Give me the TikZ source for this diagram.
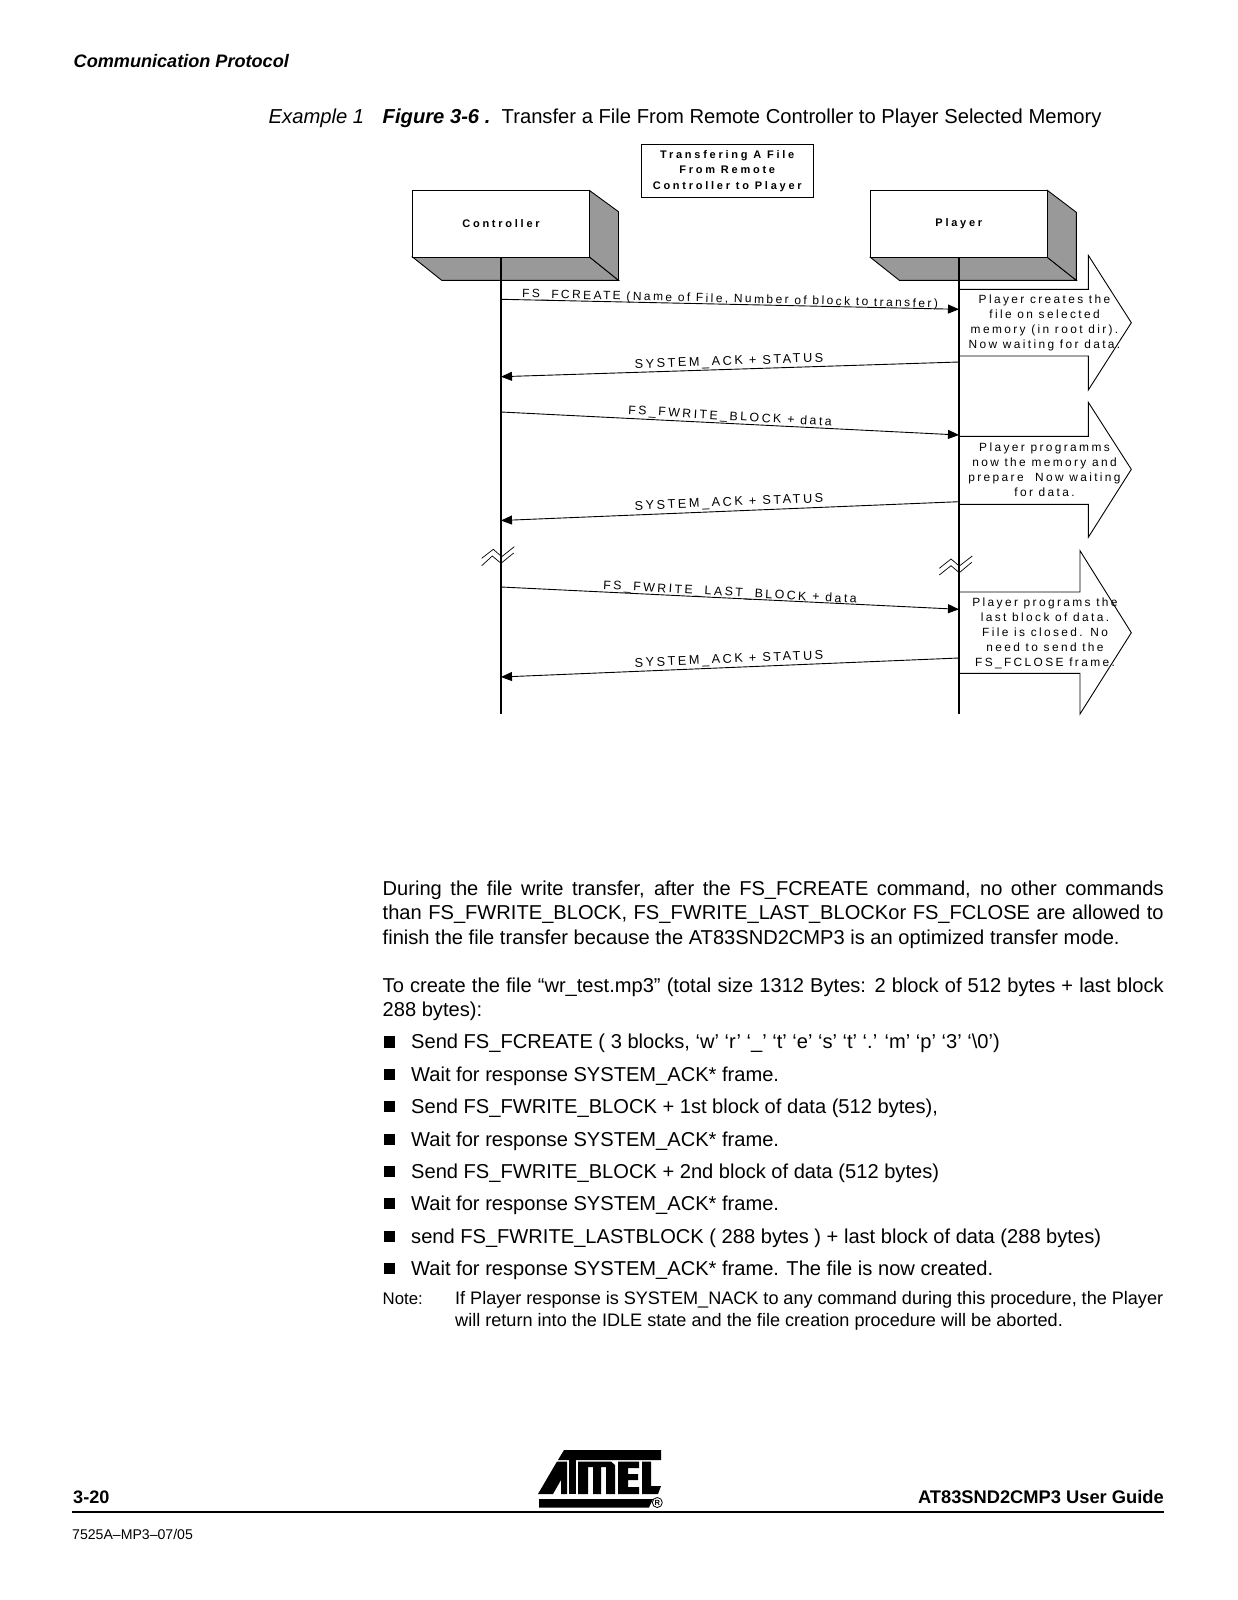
\documentclass[tikz,border=0pt]{standalone}
\usepackage{fontspec}
\setmainfont{Liberation Sans}
\newfontfamily\dgm[LetterSpace=20]{Liberation Sans}
\newfontfamily\dgmb[LetterSpace=25]{Liberation Sans Bold}
\definecolor{shade}{gray}{0.6}
\usetikzlibrary{arrows.meta}
\tikzset{
 x=1pt,y=-1pt,
 ln/.style={draw=black,line width=0.9pt},
 brk/.style={draw=black,line width=0.7pt},
 msg/.style={ln,-{Triangle[length=11pt,width=9pt]}},
 life/.style={draw=black,line width=1.3pt},
 hd/.style={fill=shade,ln},
 lab/.style={font=\dgm\fontsize{12}{12}\selectfont,inner sep=0pt},
 labs/.style={font=\dgm\fontsize{12.7}{12}\selectfont,inner sep=0pt},
 labw/.style={font=\dgm\fontsize{12.35}{12}\selectfont,inner sep=0pt},
 ttl/.style={font=\dgmb\fontsize{11}{15.2}\selectfont,inner sep=0pt,outer sep=0pt,align=center},
 call/.style={font=\dgm\fontsize{11.9}{15}\selectfont,inner sep=0pt,align=center},
 body/.style={font=\fontsize{20.1}{24}\selectfont,anchor=base west,inner sep=0pt},
 small/.style={font=\fontsize{18.1}{22}\selectfont,anchor=base west,inner sep=0pt},
 bul/.style={fill=black,draw=none,minimum size=11.5pt,inner sep=0pt,outer sep=0pt,anchor=center},
 logo/.style={fill=black,draw=none},
}
\newcommand{\jl}[1]{\makebox[781pt][s]{#1}}
\begin{document}
\begin{tikzpicture}
\useasboundingbox (0,0) rectangle (1237,1600);
\fill[white] (0,0) rectangle (1237,1600);
% header
\node[anchor=base west,inner sep=0pt,font=\fontsize{18.1}{20}\selectfont\bfseries\itshape] (hdr) at (73.5,68) {Communication Protocol};
\node[anchor=base west,inner sep=0pt,font=\fontsize{20.2}{24}\selectfont\itshape] (ex) at (268.5,124) {Example 1};
\node[anchor=base west,inner sep=0pt,font=\fontsize{20.2}{24}\selectfont\bfseries\itshape] (fig) at (382.5,124) {Figure 3-6 .};
\node[anchor=base west,inner sep=0pt,font=\fontsize{20.2}{24}\selectfont] (figt) at (501.5,124) {Transfer a File From Remote Controller to Player Selected Memory};
% title
\node[draw,line width=0.9pt,minimum width=172.5pt,minimum height=53.5pt,ttl,anchor=north west] (title) at (641,144.3) {Transfering A File\\From Remote\\Controller to Player};
% controller box
\draw[hd] (412.5,257) -- (441.7,280.3) -- (618.5,280.3) -- (589.5,257) -- cycle;
\draw[hd] (589.5,190.5) -- (618.5,211.7) -- (618.5,280.3) -- (589.5,257) -- cycle;
\node[ln,fill=white,minimum width=177pt,minimum height=66.5pt,anchor=north west,ttl] (ctl) at (412.5,190.5) {\raisebox{-1pt}{Controller}};
% player box
\draw[hd] (870.3,257.3) -- (899.3,280.3) -- (1076.3,280.3) -- (1047.3,257.3) -- cycle;
\draw[hd] (1047.3,190.3) -- (1076.3,212.3) -- (1076.3,280.3) -- (1047.3,257.3) -- cycle;
\node[ln,fill=white,minimum width=177pt,minimum height=67pt,anchor=north west,ttl] (ply) at (870.3,190.3) {\raisebox{-1.5pt}{Player}};
% callouts
\draw[ln] (959,289.3) -- (1088.3,289.3) -- (1088.3,255.3) -- (1131.3,322.7) -- (1088.3,390) -- (1088.3,356) -- (959,356);
\draw[ln] (959,436.3) -- (1088.3,436.3) -- (1088.3,402.3) -- (1131.3,469.3) -- (1088.3,537.3) -- (1088.3,504.3) -- (959,504.3);
\draw[ln] (959,592) -- (1080,592) -- (1080,550.7) -- (1131.3,632.7) -- (1080,714) -- (1080,673.3) -- (959,673.3);
\node[call] (c1) at (1044.5,322.5) {Player creates the\\file on selected\\memory (in root dir).\\Now waiting for data.};
\node[call] (c2) at (1044.5,470) {Player programms\\now the memory and\\prepare~ Now waiting\\for data.};
\node[call] (c3) at (1045,633.5) {Player programs the\\last block of data.\\File is closed. No\\need to send the\\FS\_FCLOSE frame.};
% lifelines
\coordinate (ce) at (501,714);
\coordinate (pe) at (959,714);
\draw[life] (501,257) -- (ce);
\draw[life] (959,257.3) -- (pe);
% messages
\coordinate (a1) at (501,299.3); \coordinate (b1) at (959,309.3);
\coordinate (b2) at (959,362); \coordinate (a2) at (501,376.7);
\coordinate (a3) at (501,412); \coordinate (b3) at (959,435);
\coordinate (b4) at (959,501.7); \coordinate (a4) at (501,520.5);
\coordinate (a5) at (501,587); \coordinate (b5) at (959,609.3);
\coordinate (b6) at (959,658); \coordinate (a6) at (501,677);
\draw[msg] (a1) -- (b1);
\draw[msg] (b2) -- (a2);
\draw[msg] (a3) -- (b3);
\draw[msg] (b4) -- (a4);
\draw[msg] (a5) -- (b5);
\draw[msg] (b6) -- (a6);
\node[lab,rotate=-1.4] (l1) at (730,299.5) {FS\_FCREATE (Name of File, Number of block to transfer)};
\node[labs,rotate=2] (l2) at (729,362) {SYSTEM\_ACK + STATUS};
\node[labw,rotate=-3.4] (l3) at (730,417) {FS\_FWRITE\_BLOCK + data};
\node[labs,rotate=2.4] (l4) at (729,503) {SYSTEM\_ACK + STATUS};
\node[labw,rotate=-3.2] (l5) at (730,593) {FS\_FWRITE\_LAST\_BLOCK + data};
\node[labs,rotate=2.4] (l6) at (729,660) {SYSTEM\_ACK + STATUS};
% breaks
\draw[brk] (481.7,565.7) -- (492.3,556) -- (501,563.3) -- (513.7,553);
\draw[brk] (481.7,558.3) -- (493.3,549.3) -- (501.7,556.7) -- (514.3,546.7);
\draw[brk] (939.3,575) -- (951,565.7) -- (959.3,572.7) -- (971.7,562.3);
\draw[brk] (939.3,568.3) -- (951,559) -- (959.3,566) -- (972.3,556);
% body
\node[body] (p1) at (382.5,895) {\jl{During the file write transfer, after the FS\_FCREATE command, no other commands}};
\node[body] (p2) at (382.5,919) {\jl{than FS\_FWRITE\_BLOCK, FS\_FWRITE\_LAST\_BLOCKor FS\_FCLOSE are allowed to}};
\node[body] (p3) at (382.5,944) {finish the file transfer because the AT83SND2CMP3 is an optimized transfer mode.};
\node[body] (p4) at (382.5,992) {\jl{To create the file “wr\_test.mp3” (total size 1312 Bytes: 2 block of 512 bytes + last block}};
\node[body] (p5) at (382.5,1016) {288 bytes):};
\foreach \nm/\yy/\tx in {
 b1/1048.5/{Send FS\_FCREATE ( 3 blocks, ‘w’ ‘r’ ‘\_’ ‘t’ ‘e’ ‘s’ ‘t’ ‘.’ ‘m’ ‘p’ ‘3’ ‘\textbackslash 0’)},
 b2/1081/{Wait for response SYSTEM\_ACK* frame.},
 b3/1113/{Send FS\_FWRITE\_BLOCK + 1st block of data (512 bytes),},
 b4/1146/{Wait for response SYSTEM\_ACK* frame.},
 b5/1178/{Send FS\_FWRITE\_BLOCK + 2nd block of data (512 bytes)},
 b6/1210/{Wait for response SYSTEM\_ACK* frame.},
 b7/1243/{send FS\_FWRITE\_LASTBLOCK ( 288 bytes ) + last block of data (288 bytes)},
 b8/1275/{Wait for response SYSTEM\_ACK* frame. The file is now created.}}{
 \node[bul] (sq\nm) at (389.5,\yy-6.5) {};
 \node[body] (t\nm) at (411,\yy) {\tx};
}
\node[small] (n0) at (382.5,1304) {\fontsize{16.8}{20}\selectfont Note:};
\node[small] (n1) at (455,1304) {\makebox[708pt][s]{If Player response is SYSTEM\_NACK to any command during this procedure, the Player}};
\node[small] (n2) at (455,1326.5) {will return into the IDLE state and the file creation procedure will be aborted.};
% footer
\node[anchor=base west,inner sep=0pt,font=\fontsize{18.1}{20}\selectfont\bfseries] (f1) at (73,1503) {3-20};
\node[anchor=base east,inner sep=0pt,font=\fontsize{18.3}{20}\selectfont\bfseries] (f2) at (1164,1503) {AT83SND2CMP3 User Guide};
\node[anchor=base west,inner sep=0pt,font=\fontsize{14.1}{15}\selectfont] (f3) at (72,1539) {7525A–MP3–07/05};
\draw[line width=2pt] (72,1511.5) -- (1164,1511.5);
% logo
\fill[logo] (564,1450) -- (661,1450) -- (661,1460) -- (558,1460) -- cycle;
\fill[logo] (557,1461.5) -- (567,1461.5) -- (567,1494) -- (561,1494) -- (561,1480) -- (553,1494) -- (538,1494) -- cycle;
\fill[logo] (569,1460) -- (576,1460) -- (576,1494) -- (569,1494) -- cycle;
\fill[logo] (578,1461.5) -- (611,1461.5) -- (615,1465) -- (615,1494) -- (606,1494) -- (606,1467) -- (601,1467) -- (601,1494) -- (593,1494) -- (593,1467) -- (588,1467) -- (588,1494) -- (578,1494) -- cycle;
\fill[logo] (618,1461.5) -- (639,1461.5) -- (639,1468) -- (628,1468) -- (628,1474) -- (638,1474) -- (638,1480) -- (628,1480) -- (628,1487) -- (639,1487) -- (639,1494) -- (618,1494) -- cycle;
\fill[logo] (642,1461.5) -- (651,1461.5) -- (651,1486) -- (661,1486) -- (658,1494) -- (642,1494) -- cycle;
\fill[logo] (539,1499) -- (653,1499) -- (649,1507.5) -- (539,1507.5) -- cycle;
\node[inner sep=0pt,circle,draw,line width=0.8pt,minimum size=10pt] (reg) at (657.3,1502.5) {\fontsize{7.5}{7.5}\selectfont\bfseries R};
\end{tikzpicture}
\end{document}
